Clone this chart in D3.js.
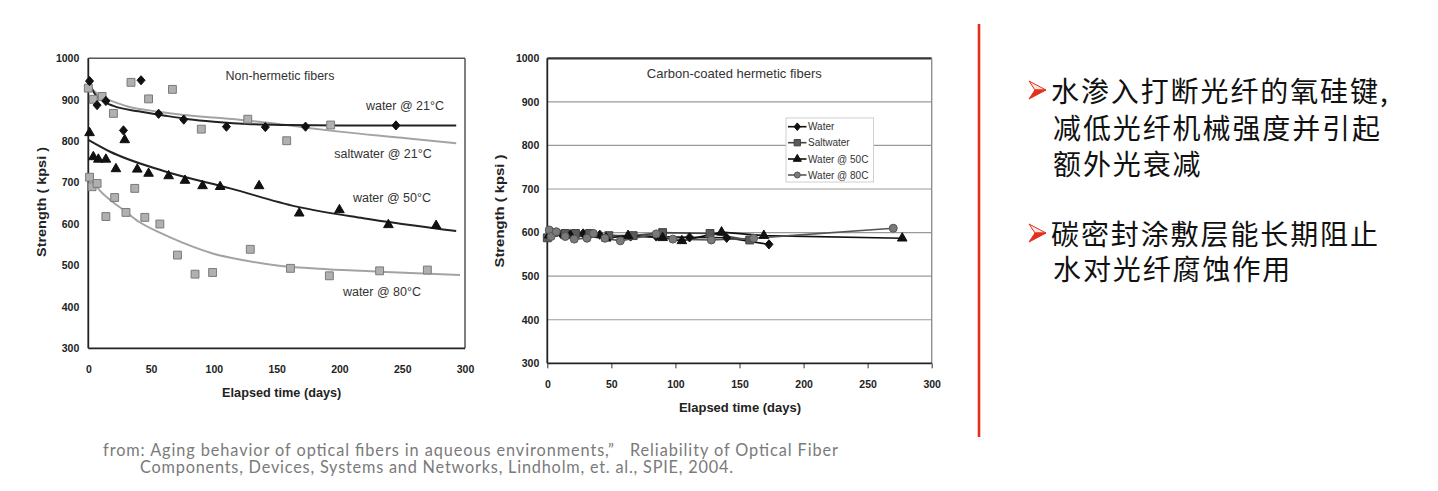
<!DOCTYPE html>
<html><head><meta charset="utf-8">
<script src="https://cdn.jsdelivr.net/npm/d3@7"></script>
<style>
body{margin:0;background:#fff;}
svg{display:block;}
</style></head>
<body>
<svg id="c" width="1438" height="491"></svg>
<script>
// ---------- data ----------
const xTicks = [0, 50, 100, 150, 200, 250, 300];
const yTicks = [300, 400, 500, 600, 700, 800, 900, 1000];

// Left chart: non-hermetic fibers (measured points) [days, kpsi]
const water21Pts = [[1,945],[7,887],[14,897],[28,826],[42,947],[56,866],[76,852],[110,835],[141,834],[173,835],[245,838]];
const salt21Pts = [[0,928],[4,901],[11,908],[20,867],[34,942],[48,902],[67,925],[90,829],[127,853],[158,801],[193,839]];
const water50Pts = [[1,820],[4,762],[8,756],[14,756],[22,733],[29,803],[39,732],[48,722],[64,716],[77,705],[91,692],[105,690],[136,692],[168,626],[200,634],[239,598],[277,596]];
const water80Pts = [[1,713],[3,690],[7,698],[14,618],[21,664],[30,628],[37,686],[45,616],[57,600],[71,525],[85,479],[99,483],[129,539],[161,493],[192,475],[232,487],[270,489]];

// Left chart: fitted trend curves [days, kpsi]
const water21Fit = [[0,945],[5,915],[10,900],[20,885],[40,872],[60,862],[80,853],[100,847],[130,841],[160,839],[200,838],[250,838],[293,838]];
const salt21Fit = [[0,935],[5,920],[14,903],[30,885],[56,871],[76,863],[100,857],[126,850],[150,842],[175,832],[200,823],[250,808],[293,795]];
const water50Fit = [[0,803],[17,775],[60,728],[113,686],[166,642],[219,614],[293,583]];
const water80Fit = [[3,705],[10,678],[20,652],[28,634],[40,606],[57,579],[75,555],[99,529],[125,512],[152,499],[190,491],[232,485],[296,477]];

const leftLabels = ["water @ 21°C", "saltwater @ 21°C", "water @ 50°C", "water @ 80°C"];

// Right chart: carbon-coated hermetic fibers [days, kpsi]
const hWater = [[2,600],[11,596],[28,598],[41,595],[65,591],[85,591],[111,589],[140,588],[173,573]];
const hSalt = [[0,588],[5,600],[14,598],[22,598],[33,598],[48,593],[67,593],[90,600],[127,598],[158,583]];
const hWater50 = [[1.5,594],[18,594],[46,587],[63,593],[90,588],[105,581],[136,601],[169,593],[277,587]];
const hWater80 = [[1.5,606],[3,591],[7,602],[14,591],[21,585],[31,587],[36,598],[45,587],[57,581],[85,597],[98,585],[128,583],[161,587],[270,610]];
const legendNames = ["Water", "Saltwater", "Water @ 50C", "Water @ 80C"];

const bullets = [
  ["水渗入打断光纤的氧硅键,", "减低光纤机械强度并引起", "额外光衰减"],
  ["碳密封涂敷层能长期阻止", "水对光纤腐蚀作用"]
];
const citation = ["from: Aging behavior of optical fibers in aqueous environments,”   Reliability of Optical Fiber",
                  "Components, Devices, Systems and Networks, Lindholm, et. al., SPIE, 2004."];

// ---------- drawing ----------
const svg = d3.select("#c");
svg.append("rect").attr("width",1438).attr("height",491).attr("fill","#fff");
const TF = "'Liberation Sans', Arial, sans-serif";

function styleAxis(g){
  g.select(".domain").remove();
  g.selectAll("text").attr("font-family",TF).attr("font-weight","bold").attr("font-size","10.5px").attr("fill","#222");
  g.selectAll("line").attr("stroke","#333");
}

const diamondPath = (w,h)=>`M0,${-h}L${w},0L0,${h}L${-w},0Z`;
const sym = {
  diamond: diamondPath(4,4.6),
  square: d3.symbol().type(d3.symbolSquare).size(62)(),
  triangle: d3.symbol().type(d3.symbolTriangle).size(40)(),
  circle: d3.symbol().type(d3.symbolCircle).size(50)()
};
const legSym = [diamondPath(3.2,3.8), d3.symbol().type(d3.symbolSquare).size(40)(), d3.symbol().type(d3.symbolTriangle).size(28)(), d3.symbol().type(d3.symbolCircle).size(28)()];

// ===== Left chart =====
const xL = d3.scaleLinear().domain([0,300]).range([88.3,465]);
const yL = d3.scaleLinear().domain([300,1000]).range([348.3,58.3]);
const L = svg.append("g");

L.append("g").attr("transform","translate(0,348.3)")
  .call(d3.axisBottom(xL).tickValues(xTicks).tickFormat(d3.format("d")).tickSize(0).tickPadding(17)).call(styleAxis);
L.append("g").attr("transform","translate(88.3,0)")
  .call(d3.axisLeft(yL).tickValues(yTicks).tickFormat(d3.format("d")).tickSize(0).tickPadding(9)).call(styleAxis);

// frame
L.append("line").attr("x1",xL(0)).attr("x2",xL(300)).attr("y1",yL(1000)).attr("y2",yL(1000)).attr("stroke","#555").attr("stroke-width",1.5);
L.append("line").attr("x1",xL(300)).attr("x2",xL(300)).attr("y1",yL(1000)).attr("y2",yL(300)).attr("stroke","#555").attr("stroke-width",1.5);
L.append("line").attr("x1",xL(0)).attr("x2",xL(300)).attr("y1",yL(300)).attr("y2",yL(300)).attr("stroke","#222").attr("stroke-width",1.8);
L.append("line").attr("x1",xL(0)).attr("x2",xL(0)).attr("y1",yL(1000)).attr("y2",yL(300)).attr("stroke","#222").attr("stroke-width",1.8);

const lineL = d3.line().x(d=>xL(d[0])).y(d=>yL(d[1])).curve(d3.curveMonotoneX);
[[salt21Fit,"#a3a3a3"],[water80Fit,"#a3a3a3"],[water21Fit,"#222"],[water50Fit,"#222"]].forEach(([d,c])=>{
  L.append("path").attr("d",lineL(d)).attr("fill","none").attr("stroke",c).attr("stroke-width",2);
});

function marks(g, data, x, y, s, fill, stroke){
  g.append("g").selectAll("path").data(data).join("path")
    .attr("transform",d=>`translate(${x(d[0])},${y(d[1])})`)
    .attr("d",s).attr("fill",fill).attr("stroke",stroke).attr("stroke-width",1);
}
marks(L, salt21Pts, xL, yL, sym.square, "#b0b0b0", "#7a7a7a");
marks(L, water80Pts, xL, yL, sym.square, "#b0b0b0", "#7a7a7a");
marks(L, water21Pts, xL, yL, sym.diamond, "#111", "#111");
marks(L, water50Pts, xL, yL, sym.triangle, "#111", "#111");

L.append("text").attr("x",280).attr("y",80).attr("text-anchor","middle").attr("font-family",TF).attr("font-size","12.5px").attr("fill","#333").text("Non-hermetic fibers");
const labPos = [[405,109.5],[383,158],[392,201.5],[382,295.5]];
leftLabels.forEach((t,i)=>{
  L.append("text").attr("x",labPos[i][0]).attr("y",labPos[i][1]).attr("text-anchor","middle")
   .attr("font-family",TF).attr("font-size","12.5px").attr("fill","#333").text(t);
});
L.append("text").attr("x",281.7).attr("y",396.5).attr("text-anchor","middle").attr("font-family",TF).attr("font-weight","bold").attr("font-size","12.7px").attr("fill","#222").text("Elapsed time (days)");
L.append("text").attr("transform","translate(46,202) rotate(-90)").attr("text-anchor","middle").attr("font-family",TF).attr("font-weight","bold").attr("font-size","13px").attr("fill","#222")
  .attr("textLength",110).attr("lengthAdjust","spacingAndGlyphs").text("Strength ( kpsi )");

// ===== Right chart =====
const xR = d3.scaleLinear().domain([0,300]).range([547.3,931.7]);
const yR = d3.scaleLinear().domain([300,1000]).range([363.3,58.3]);
const R = svg.append("g");

// gridlines
R.append("g").selectAll("line").data(yTicks.filter(v=>v>300 && v<1000)).join("line")
  .attr("x1",xR(0)).attr("x2",xR(300)).attr("y1",d=>yR(d)).attr("y2",d=>yR(d))
  .attr("stroke","#9a9a9a").attr("stroke-width",1.2);

R.append("g").attr("transform","translate(0,363.3)")
  .call(d3.axisBottom(xR).tickValues(xTicks).tickFormat(d3.format("d")).tickSize(5).tickPadding(12)).call(styleAxis);
R.append("g").attr("transform","translate(547.3,0)")
  .call(d3.axisLeft(yR).tickValues(yTicks).tickFormat(d3.format("d")).tickSize(0).tickPadding(8)).call(styleAxis);

R.append("line").attr("x1",xR(0)).attr("x2",xR(300)).attr("y1",yR(1000)).attr("y2",yR(1000)).attr("stroke","#333").attr("stroke-width",2.2);
R.append("line").attr("x1",xR(300)).attr("x2",xR(300)).attr("y1",yR(1000)).attr("y2",yR(300)).attr("stroke","#888").attr("stroke-width",1.3);
R.append("line").attr("x1",xR(0)).attr("x2",xR(300)).attr("y1",yR(300)).attr("y2",yR(300)).attr("stroke","#222").attr("stroke-width",1.8);
R.append("line").attr("x1",xR(0)).attr("x2",xR(0)).attr("y1",yR(1000)).attr("y2",yR(300)).attr("stroke","#222").attr("stroke-width",1.8);

const lineR = d3.line().x(d=>xR(d[0])).y(d=>yR(d[1]));
const hSeries = [
  {d:hWater, s:sym.diamond, fill:"#111", stroke:"#111", line:"#111"},
  {d:hSalt, s:sym.square, fill:"#5a5a5a", stroke:"#444", line:"#444"},
  {d:hWater50, s:sym.triangle, fill:"#111", stroke:"#111", line:"#111"},
  {d:hWater80, s:sym.circle, fill:"#7a7a7a", stroke:"#555", line:"#555"}
];
hSeries.forEach(o=>{
  R.append("path").attr("d",lineR(o.d)).attr("fill","none").attr("stroke",o.line).attr("stroke-width",1.6);
});
hSeries.forEach(o=>{ marks(R, o.d, xR, yR, o.s, o.fill, o.stroke); });

R.append("text").attr("x",734.3).attr("y",78).attr("text-anchor","middle").attr("font-family",TF).attr("font-size","13px").attr("fill","#333").text("Carbon-coated hermetic fibers");
R.append("text").attr("x",740).attr("y",411.5).attr("text-anchor","middle").attr("font-family",TF).attr("font-weight","bold").attr("font-size","13px").attr("fill","#222").text("Elapsed time (days)");
R.append("text").attr("transform","translate(504,211) rotate(-90)").attr("text-anchor","middle").attr("font-family",TF).attr("font-weight","bold").attr("font-size","13px").attr("fill","#222")
  .attr("textLength",113).attr("lengthAdjust","spacingAndGlyphs").text("Strength ( kpsi )");

// legend
const lg = R.append("g");
lg.append("rect").attr("x",786).attr("y",118).attr("width",87.5).attr("height",64).attr("fill","#fff").attr("stroke","#d0d0d0").attr("stroke-width",1);
const legY = [126.7,142.7,159,175];
hSeries.forEach((o,i)=>{
  lg.append("line").attr("x1",788).attr("x2",806.5).attr("y1",legY[i]).attr("y2",legY[i]).attr("stroke",o.line).attr("stroke-width",1.6);
  lg.append("path").attr("transform",`translate(797.3,${legY[i]})`).attr("d",legSym[i]).attr("fill",o.fill).attr("stroke",o.stroke);
  lg.append("text").attr("x",808).attr("y",legY[i]+3.6).attr("font-family",TF).attr("font-size","10px").attr("fill","#333").text(legendNames[i]);
});

// ===== Right text panel =====
svg.append("line").attr("x1",979).attr("x2",979).attr("y1",24).attr("y2",437).attr("stroke","#e3301b").attr("stroke-width",2.6);

const baseY = [[102,139,175],[245,280]];
bullets.forEach((lines,bi)=>{
  const by = baseY[bi][0] - 12;
  const tip=[1046,by], a=[1029,by-9], n=[1035,by], b=[1029,by+9];
  svg.append("path").attr("d",`M${a}L${tip}L${n}Z`).attr("fill","#fde4df").attr("stroke","#e3301b").attr("stroke-width",1);
  svg.append("path").attr("d",`M${n}L${tip}L${b}Z`).attr("fill","#e3301b").attr("stroke","#e3301b").attr("stroke-width",1);
  const t = svg.append("text").attr("font-family","'Noto Sans CJK SC', sans-serif").attr("font-size","28px")
    .attr("letter-spacing","1.9px").attr("fill","#111");
  lines.forEach((s,li)=>{
    t.append("tspan").attr("x", li===0?1051:1053).attr("y",baseY[bi][li]).text(s);
  });
});

// citation
const citeX = [103,140], citeY = [456,473], citeW = [735,593];
citation.forEach((t,i)=>{
  svg.append("text").attr("x",citeX[i]).attr("y",citeY[i]).attr("font-family","Lato, 'Noto Sans', sans-serif")
    .attr("font-size","16.3px").attr("fill","#7a7a7a").attr("style","white-space:pre")
    .attr("textLength",citeW[i]).attr("lengthAdjust","spacing").text(t);
});
</script>
</body></html>
